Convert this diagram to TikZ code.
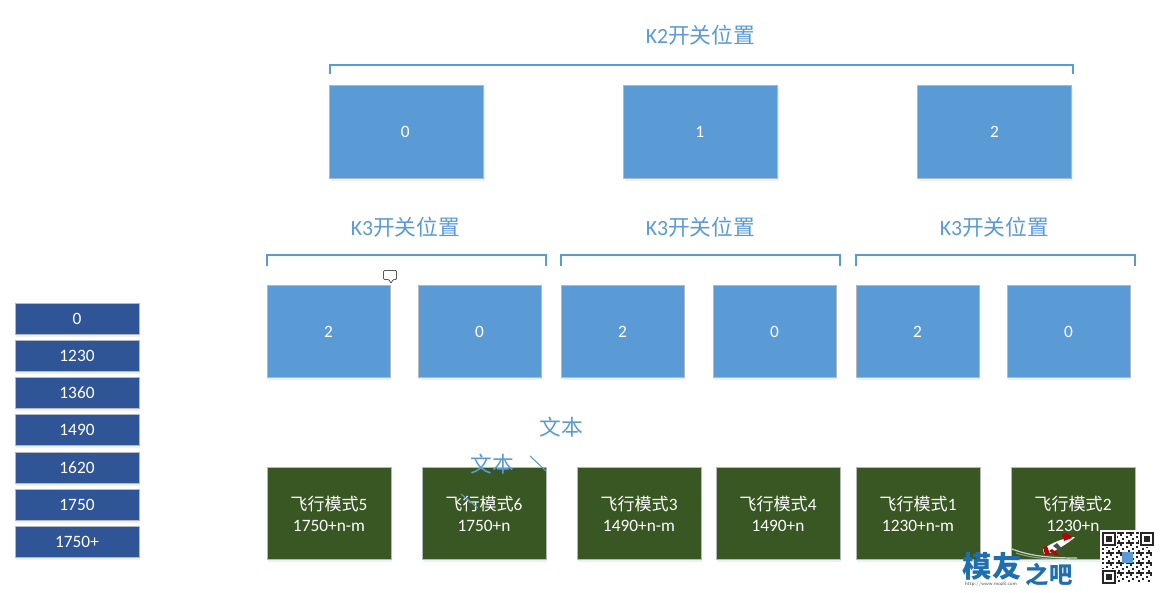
\documentclass[tikz,border=0pt]{standalone}
\usepackage{fontspec}
\setmainfont{Carlito}
\newfontfamily\cjk{Noto Sans CJK SC}
\usetikzlibrary{shadows}
\definecolor{kblue}{HTML}{5B9BD5}
\definecolor{kgreen}{HTML}{385723}
\definecolor{knavy}{HTML}{2F5597}
\definecolor{kedge}{HTML}{B4B8BC}
\definecolor{kshadow}{HTML}{D8E6F5}
\definecolor{kmark}{HTML}{1F6FB0}
\newcommand{\kbox}[6]{\node[#1,minimum width=#4*0.75pt,minimum height=#5*0.75pt] (#2) at (#3) {#6};}
\tikzset{
  x=0.75pt,y=-0.75pt,
  boxbase/.style={draw=kedge,line width=0.7pt,inner sep=0pt,text=white,align=center,font=\fontsize{13}{15.8}\selectfont,
    general shadow={fill=kshadow,opacity=.55,shadow xshift=1pt,shadow yshift=-2pt}},
  bluebox/.style={boxbase,fill=kblue},
  greenbox/.style={boxbase,fill=kgreen},
  navybox/.style={boxbase,fill=knavy},
  bracket/.style={draw=kblue,line width=1pt},
  title/.style={text=kblue,inner sep=0pt,font=\fontsize{16.3}{19}\selectfont},
  tick/.style={draw=kblue,line width=0.8pt},
}
\newcommand{\mode}[2]{{\cjk\fontsize{12.8}{15.8}\selectfont 飞行模式}#1\\#2}
\begin{document}
\begin{tikzpicture}
\useasboundingbox (0,0) rectangle (1162,592);
\fill[white] (0,0) rectangle (1162,592);

% titles
\node[title] (t2) at (700.5,35.5) {K2{\cjk 开关位置}};
\node[title] (t31) at (405.5,227.5) {K3{\cjk 开关位置}};
\node[title] (t32) at (700.5,227.5) {K3{\cjk 开关位置}};
\node[title] (t33) at (994.5,227.5) {K3{\cjk 开关位置}};

% brackets
\draw[bracket] (330,74) -- (330,65) -- (1073,65) -- (1073,74);
\draw[bracket] (267,266) -- (267,255) -- (546,255) -- (546,266);
\draw[bracket] (561,266) -- (561,255) -- (840,255) -- (840,266);
\draw[bracket] (856,266) -- (856,255) -- (1135,255) -- (1135,266);

% K2 row
\kbox{bluebox}{a0}{406.5,131.5}{154.5}{93}{\hspace*{-2pt}0}
\kbox{bluebox}{a1}{700.5,131.5}{154.5}{93}{\hspace*{-1pt}1}
\kbox{bluebox}{a2}{994.5,131.5}{154.5}{93}{2}

% K3 row
\kbox{bluebox}{b1}{328.5,331.5}{123}{92.5}{2}
\kbox{bluebox}{b2}{479.5,331.5}{123}{92.5}{0}
\kbox{bluebox}{b3}{622.5,331.5}{123}{92.5}{2}
\kbox{bluebox}{b4}{774.5,331.5}{123}{92.5}{0}
\kbox{bluebox}{b5}{917.5,331.5}{123}{92.5}{2}
\kbox{bluebox}{b6}{1068.5,331.5}{123}{92.5}{0}

% modes
\kbox{greenbox}{c1}{329,513.5}{124}{92.5}{\mode{5}{1750+n-m}}
\kbox{greenbox}{c2}{484,513.5}{124}{92.5}{\mode{6}{1750+n}}
\kbox{greenbox}{c3}{639,513.5}{124}{92.5}{\mode{3}{1490+n-m}}
\kbox{greenbox}{c4}{778,513.5}{124}{92.5}{\mode{4}{1490+n}}
\kbox{greenbox}{c5}{918,513.5}{124}{92.5}{\mode{1}{1230+n-m}}
\kbox{greenbox}{c6}{1073,513.5}{124}{92.5}{\mode{2}{1230+n}}

% left column
\kbox{navybox}{v0}{77,319}{124}{31}{0}
\kbox{navybox}{v1}{77,356}{124}{31}{1230}
\kbox{navybox}{v2}{77,393}{124}{31}{1360}
\kbox{navybox}{v3}{77,430}{124}{31}{1490}
\kbox{navybox}{v4}{77,468}{124}{31}{1620}
\kbox{navybox}{v5}{77,505}{124}{31}{1750}
\kbox{navybox}{v6}{77,542}{124}{31}{1750+}

% stray text boxes
\node[title,font=\fontsize{16.3}{19}\selectfont\cjk] (x1) at (561,427) {文本};
\node[title,font=\fontsize{16.3}{19}\selectfont\cjk] (x2) at (492,464) {文本};
\coordinate (l1a) at (530,456); \coordinate (l1b) at (546,471);
\coordinate (l2a) at (461,494); \coordinate (l2b) at (478,508);
\draw[tick] (l1a) -- (l1b);
\draw[tick] (l2a) -- (l2b);

% comment icon
\draw[draw=black!65,fill=white,line width=0.6pt,rounded corners=0.8pt]
  (383.5,270.5) -- (396.5,270.5) -- (396.5,279.5) -- (393,279.5) -- (391,283.5) -- (389,279.5) -- (383.5,279.5) -- cycle;

% watermark: swoosh and plane
\draw[white,opacity=.75,line width=0.9pt] (1012,549) .. controls (1030,556) and (1050,558) .. (1077,558);
\draw[white,opacity=.45,line width=0.8pt] (1016,553) .. controls (1032,558) and (1050,560) .. (1070,559);
\fill[white] (1043,549) .. controls (1052,543) and (1062,538) .. (1075,537) .. controls (1070,542) and (1060,548) .. (1050,553) -- (1044,554) -- cycle;
\fill[red!75!black] (1062,534) -- (1067,533) -- (1072,538) -- (1064,541) -- cycle;
\fill[red!75!black] (1043,547) -- (1047,546) -- (1050,554) -- (1045,555) -- cycle;
\fill[black!70] (1057,543) -- (1063,550) -- (1060,551) -- (1053,546) -- cycle;
\fill[red!75!black] (1052,549) -- (1059,555) -- (1056,555) -- (1049,551) -- cycle;

\node[inner sep=0pt,text=kmark,font=\fontsize{22}{24}\selectfont\cjk\bfseries] (m1) at (992,566) {模友};
\node[inner sep=0pt,text=kmark,font=\fontsize{17.5}{19}\selectfont\cjk\bfseries] (m2) at (1049,574) {之吧};
\node[inner sep=0pt,text=black!70,font=\fontsize{3.8}{4}\selectfont\sffamily] (m3) at (991,584) {http://www.moz8.com};

% QR code
\fill[white] (1100,530) rectangle (1156,584);
\foreach \i in {0,...,24}{
  \foreach \j in {0,...,24}{
    \pgfmathtruncatemacro{\v}{mod(\i*\i*7+\j*\j*5+\i*\j*3+\i+2*\j,5)}
    \ifnum\v<2
      \fill[black!85] ({1102+2*\i},{532+2*\j}) rectangle ++(2,2);
    \fi
  }
}
\foreach \px/\py in {1102/532,1140/532,1102/570}{
  \fill[white] (\px-1,\py-1) rectangle ++(16,16);
  \fill[black!85] (\px,\py) rectangle ++(14,14);
  \fill[white] (\px+2,\py+2) rectangle ++(10,10);
  \fill[black!85] (\px+4,\py+4) rectangle ++(6,6);
}
\fill[kblue] (1122,552) rectangle ++(11,11);
\end{tikzpicture}
\end{document}
